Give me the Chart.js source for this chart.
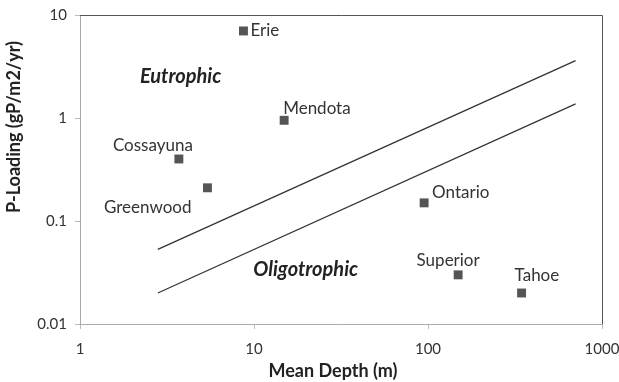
<!DOCTYPE html>
<html lang="en">
<head>
  <meta charset="UTF-8">
  <title>P-Loading vs Mean Depth</title>
  <script src="https://cdn.jsdelivr.net/npm/chart.js@4"></script>
  <style>
    html, body { margin: 0; padding: 0; background: #fff; }
    #wrap { width: 619px; height: 382px; }
  </style>
</head>
<body>

<div id="wrap">
  <canvas id="chart" width="619" height="382"></canvas>
</div>

<script>
  // lakes
  const lakeNames = ['Erie', 'Mendota', 'Cossayuna', 'Greenwood', 'Ontario', 'Superior', 'Tahoe'];
  const meanDepth = [8.7, 14.9, 3.7, 5.4, 95, 149, 345];
  const pLoading  = [7.0, 0.95, 0.40, 0.21, 0.15, 0.030, 0.020];

  // boundary lines (Vollenweider)
  const lineDepth = [2.8, 705];
  const upperLoad = [0.053, 3.6];
  const lowerLoad = [0.020, 1.37];

  const xTicks = [1, 10, 100, 1000];
  const yTicks = [0.01, 0.1, 1, 10];

  // label placement, px from marker: [dx, dy, align]
  const labelOffsets = {
    Erie: [7, 0, 'left'],
    Mendota: [-1, -12, 'left'],
    Cossayuna: [14, -13, 'right'],
    Greenwood: [-16, 20, 'right'],
    Ontario: [8, -10, 'left'],
    Superior: [-10, -14, 'center'],
    Tahoe: [-7, -17, 'left']
  };

  const regionLabels = [
    { text: 'Eutrophic', x: 2.21, y: 2.5 },
    { text: 'Oligotrophic', x: 9.9, y: 0.034 }
  ];

  const textPlugin = {
    id: 'textPlugin',
    afterDatasetsDraw(chart) {
      const ctx = chart.ctx;
      const xs = chart.scales.x, ys = chart.scales.y;
      ctx.save();
      ctx.textBaseline = 'middle';

      ctx.font = '17px Lato';
      ctx.fillStyle = '#333';
      lakeNames.forEach((name, i) => {
        const o = labelOffsets[name];
        ctx.textAlign = o[2];
        ctx.fillText(name, xs.getPixelForValue(meanDepth[i]) + o[0], ys.getPixelForValue(pLoading[i]) + o[1]);
      });

      ctx.font = 'italic bold 20px Lato';
      ctx.fillStyle = '#222';
      ctx.textAlign = 'left';
      regionLabels.forEach(r => {
        ctx.fillText(r.text, xs.getPixelForValue(r.x), ys.getPixelForValue(r.y));
      });

      // axis titles
      ctx.font = 'bold 18px Lato';
      ctx.textAlign = 'center';
      ctx.fillText('Mean Depth (m)', 333, 371);
      ctx.translate(14, 127);
      ctx.rotate(-Math.PI / 2);
      ctx.fillText('P-Loading (gP/m2/yr)', 0, 0);
      ctx.restore();

      // frame on top and right
      const a = chart.chartArea;
      ctx.save();
      ctx.strokeStyle = '#555';
      ctx.lineWidth = 1;
      ctx.beginPath();
      ctx.moveTo(a.left, a.top + 0.5);
      ctx.lineTo(a.right + 0.5, a.top + 0.5);
      ctx.lineTo(a.right + 0.5, a.bottom);
      ctx.stroke();
      ctx.restore();
    }
  };

  const ctx = document.getElementById('chart').getContext('2d');

  const config = {
    type: 'scatter',
    data: {
      datasets: [
        {
          label: 'Lakes',
          data: meanDepth.map((d, i) => ({ x: d, y: pLoading[i] })),
          pointStyle: 'rect',
          pointRadius: 6.3,
          backgroundColor: '#555',
          borderColor: '#555',
          borderWidth: 0
        },
        {
          label: 'Upper',
          type: 'line',
          data: lineDepth.map((d, i) => ({ x: d, y: upperLoad[i] })),
          borderColor: '#333',
          borderWidth: 1.3,
          pointRadius: 0,
          fill: false
        },
        {
          label: 'Lower',
          type: 'line',
          data: lineDepth.map((d, i) => ({ x: d, y: lowerLoad[i] })),
          borderColor: '#333',
          borderWidth: 1.3,
          pointRadius: 0,
          fill: false
        }
      ]
    },
    options: {
      responsive: false,
      animation: false,
      layout: { padding: { top: 15, right: 17, left: 0, bottom: 0 } },
      plugins: {
        legend: { display: false },
        tooltip: { enabled: false }
      },
      scales: {
        x: {
          type: 'logarithmic',
          min: 1,
          max: 1000,
          afterBuildTicks: s => { s.ticks = xTicks.map(v => ({ value: v })); },
          afterFit: s => { s.height = 58; s.paddingLeft = 0; s.paddingRight = 0; },
          ticks: {
            callback: v => String(v),
            color: '#333',
            font: { family: 'Lato', size: 15 },
            padding: 11,
            maxRotation: 0
          },
          grid: { drawOnChartArea: false, tickLength: 5, color: '#bbb' },
          border: { color: '#aaa' }
        },
        y: {
          type: 'logarithmic',
          min: 0.01,
          max: 10,
          afterBuildTicks: s => { s.ticks = yTicks.map(v => ({ value: v })); },
          afterFit: s => { s.width = 80; s.paddingTop = 0; s.paddingBottom = 0; },
          ticks: {
            callback: v => String(v),
            color: '#333',
            font: { family: 'Lato', size: 15 },
            padding: 8
          },
          grid: { drawOnChartArea: false, tickLength: 5, color: '#bbb' },
          border: { color: '#aaa' }
        }
      }
    },
    plugins: [textPlugin]
  };

  new Chart(ctx, config);
</script>

</body>
</html>
